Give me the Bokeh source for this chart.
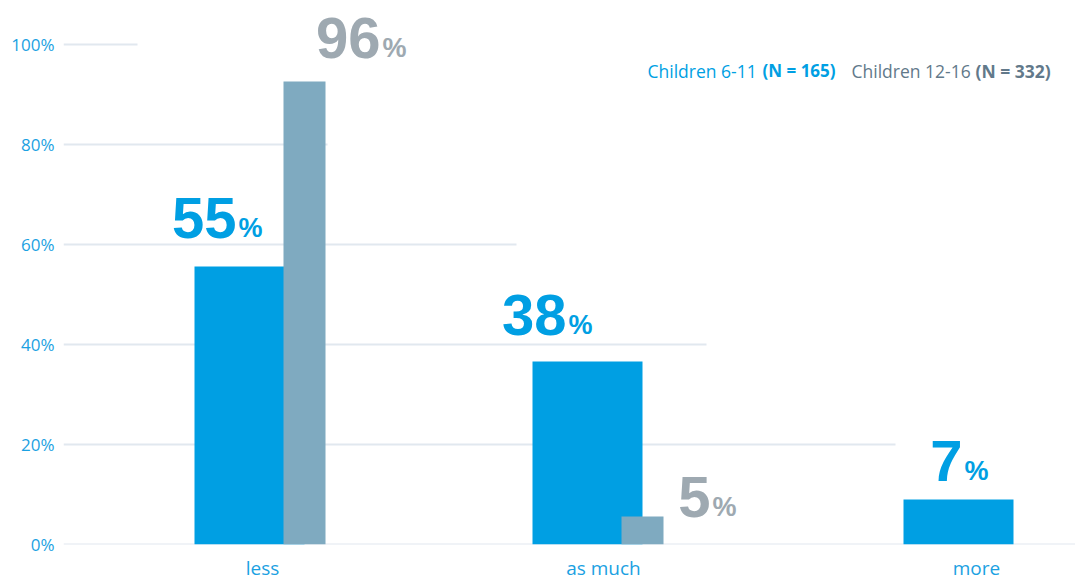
from bokeh.plotting import figure
from bokeh.models import Range1d, FixedTicker
from bokeh.core.properties import value
from bokeh.embed import file_html
from bokeh.resources import INLINE

# ---- data ----
categories = ["less", "as much", "more"]
younger_vals = [55.6, 36.6, 9.0]          # Children 6-11 bar heights (%)
older_vals = [92.6, 5.6, float("nan")]    # Children 12-16 bar heights (%)
younger_labels = ["55", "38", "7"]
older_labels = ["96", "5", ""]
y_ticks = [0, 20, 40, 60, 80, 100]
y_tick_labels = ["0%", "20%", "40%", "60%", "80%", "100%"]

# ---- layout constants (x in frame units) ----
blue_left = [194, 532, 903]
blue_w = 110
gray_off = 89
gray_w = 42
cat_label_x = [262, 603, 976]
grid_ends = [1075, 895, 706, 516, 327, 137]
y_lab_x = [236, 566, 962]
y_lab_dy = [5.6, 5.2, 3.6]
o_lab_x = [380, 710]
o_lab_dy = [4.6, -0.2]
NUM_SHIFT = 4.1   # baseline correction for big numbers (units)
PCT_SHIFT = 2.1   # baseline correction for small % signs (units)

BLUE = "#009FE3"
GRAY_BAR = "#7FAAC0"
GRAY_TXT = "#9EA9B1"
LEG_GRAY = "#62798A"
GRID = "#E1E8EF"
AXIS_BLUE = "#1BA1E2"

p = figure(width=1075, height=583, output_backend="svg", toolbar_location=None,
           x_range=Range1d(63, 1075), y_range=Range1d(0, 108.8),
           min_border_left=63, min_border_right=0, min_border_top=0,
           min_border_bottom=39)
p.outline_line_color = None
p.xgrid.visible = False
p.ygrid.visible = False
p.background_fill_color = "white"
p.border_fill_color = "white"

# partial gridlines
p.segment(x0=[63] * len(y_ticks), y0=y_ticks, x1=grid_ends, y1=y_ticks,
          line_color=GRID, line_width=2)

# bars
yc = [l + blue_w / 2 for l in blue_left]
p.vbar(x=yc, top=younger_vals, bottom=0, width=blue_w, fill_color=BLUE, line_color=None)
oc = [l + gray_off + gray_w / 2 for l in blue_left]
p.vbar(x=oc[:2], top=older_vals[:2], bottom=0, width=gray_w, fill_color=GRAY_BAR, line_color=None)

# value labels
ny = [v + d for v, d in zip(younger_vals, y_lab_dy)]
p.text(x=y_lab_x, y=[v + NUM_SHIFT for v in ny], text=younger_labels, text_align="right",
       text_baseline="alphabetic", text_font=value("Liberation Sans"), text_font_style="bold",
       text_font_size="58px", text_color=BLUE)
p.text(x=[x + 2 for x in y_lab_x], y=[v + PCT_SHIFT for v in ny], text=["%"] * 3,
       text_align="left", text_baseline="alphabetic", text_font=value("Liberation Sans"),
       text_font_style="bold", text_font_size="27px", text_color=BLUE)
no = [v + d for v, d in zip(older_vals[:2], o_lab_dy)]
p.text(x=o_lab_x, y=[v + NUM_SHIFT for v in no], text=older_labels[:2], text_align="right",
       text_baseline="alphabetic", text_font=value("Liberation Sans"), text_font_style="bold",
       text_font_size="58px", text_color=GRAY_TXT)
p.text(x=[x + 2 for x in o_lab_x], y=[v + PCT_SHIFT for v in no], text=["%"] * 2,
       text_align="left", text_baseline="alphabetic", text_font=value("Liberation Sans"),
       text_font_style="bold", text_font_size="27px", text_color=GRAY_TXT)

# legend (mixed weights)
leg_y = 94.8
leg_font = value("Open Sans")
p.text(x=[647], y=[leg_y], text=["Children 6-11"], text_baseline="middle",
       text_font=leg_font, text_font_size="17.5px", text_color=BLUE)
p.text(x=[762], y=[leg_y], text=["(N = 165)"], text_baseline="middle",
       text_font=leg_font, text_font_style="bold", text_font_size="17px", text_color=BLUE)
p.text(x=[851], y=[leg_y], text=["Children 12-16"], text_baseline="middle",
       text_font=leg_font, text_font_size="17.5px", text_color=LEG_GRAY)
p.text(x=[975], y=[leg_y], text=["(N = 332)"], text_baseline="middle",
       text_font=leg_font, text_font_style="bold", text_font_size="17.5px", text_color=LEG_GRAY)

# axes
xa = p.xaxis[0]
xa.ticker = FixedTicker(ticks=cat_label_x)
xa.major_label_overrides = {x: c for x, c in zip(cat_label_x, categories)}
xa.axis_line_color = None
xa.major_tick_line_color = None
xa.minor_tick_line_color = None
xa.major_tick_out = 0
xa.major_tick_in = 0
xa.major_label_standoff = 10
xa.major_label_text_font = "Open Sans"
xa.major_label_text_font_size = "19px"
xa.major_label_text_color = AXIS_BLUE

ya = p.yaxis[0]
ya.ticker = FixedTicker(ticks=y_ticks)
ya.major_label_overrides = {t: l for t, l in zip(y_ticks, y_tick_labels)}
ya.axis_line_color = None
ya.major_tick_line_color = None
ya.minor_tick_line_color = None
ya.major_tick_out = 0
ya.major_tick_in = 0
ya.major_label_standoff = 9
ya.major_label_text_font = "Open Sans"
ya.major_label_text_font_size = "17px"
ya.major_label_text_color = AXIS_BLUE

open("out.html", "w").write(file_html(p, INLINE))
